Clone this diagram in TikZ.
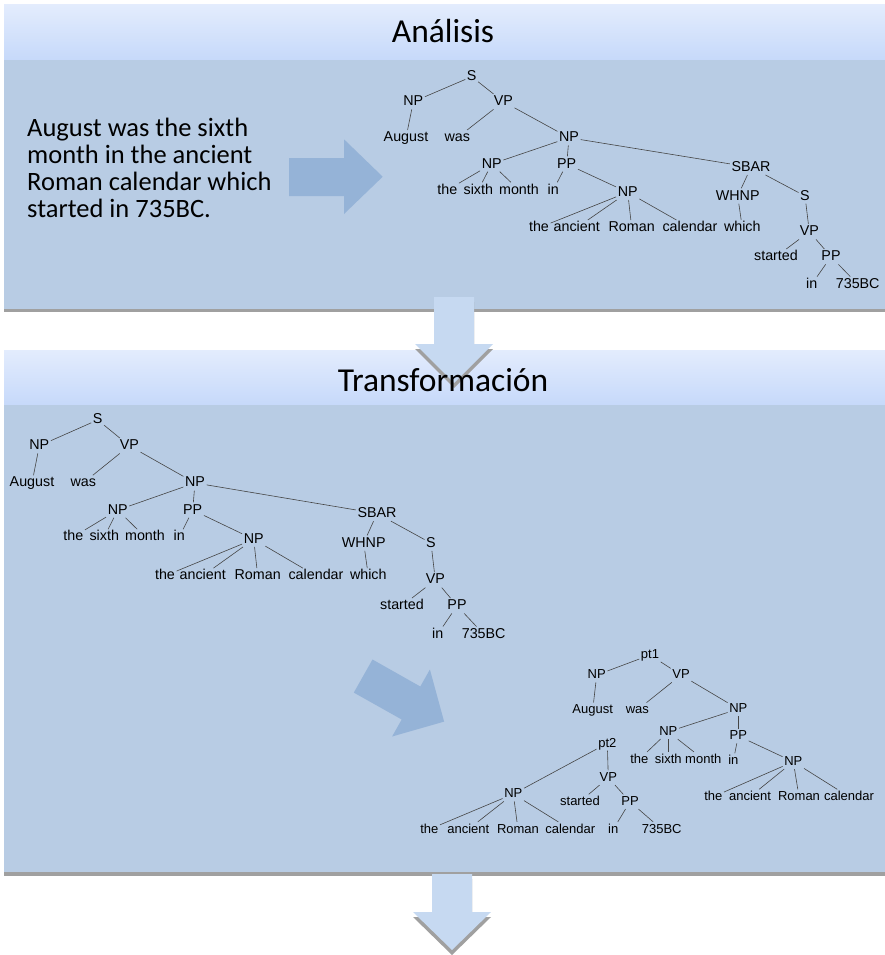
\documentclass[tikz,border=0pt]{standalone}
\usepackage{fontspec}
\setmainfont{Carlito}
\newfontfamily\arialf{Liberation Sans}
\definecolor{bodyblue}{HTML}{B8CCE4}
\definecolor{hdtop}{HTML}{E3ECFD}
\definecolor{hdbot}{HTML}{C6D9FA}
\definecolor{arrowblue}{HTML}{95B3D7}
\definecolor{downblue}{HTML}{C6D9F1}
\definecolor{shadowgray}{HTML}{A0A0A0}
\definecolor{edgegray}{HTML}{454545}
\tikzset{
  lbl/.style={font=\arialf\fontsize{14.3}{14.3}\selectfont, inner sep=1.5pt, text height=10pt, text depth=2pt},
  lblsm/.style={font=\arialf\fontsize{13}{13}\selectfont, inner sep=1.5pt, text height=9.4pt, text depth=2pt},
  edge/.style={draw=edgegray, line width=0.6pt},
  hdr/.style={font=\fontsize{33.5}{33.5}\selectfont, anchor=base, inner sep=0pt},
}
\newcommand\treeA[1]{%
  \node[lbl] (#1S) at (471.7,76.7) {S};
  \node[lbl] (#1NPa) at (413.3,101.7) {NP};
  \node[lbl] (#1VPa) at (503.3,101.7) {VP};
  \node[lbl] (#1Aug) at (406,137.7) {August};
  \node[lbl] (#1was) at (457.3,137.7) {was};
  \node[lbl] (#1NPb) at (569,137.7) {NP};
  \node[lbl] (#1NPc) at (491.7,164) {NP};
  \node[lbl] (#1PPa) at (566.7,164) {PP};
  \node[lbl] (#1thea) at (447.3,190) {the};
  \node[lbl] (#1sixth) at (478.3,190) {sixth};
  \node[lbl] (#1month) at (519,190) {month};
  \node[lbl] (#1ina) at (553.3,190) {in};
  \node[lbl] (#1NPd) at (627.7,192.3) {NP};
  \node[lbl] (#1SBAR) at (751,167.3) {SBAR};
  \node[lbl] (#1WHNP) at (737.7,196) {WHNP};
  \node[lbl] (#1Sb) at (805,196) {S};
  \node[lbl] (#1theb) at (539,227.7) {the};
  \node[lbl] (#1anc) at (576.7,227.7) {ancient};
  \node[lbl] (#1Rom) at (631.7,227.7) {Roman};
  \node[lbl] (#1cal) at (690,227.7) {calendar};
  \node[lbl] (#1which) at (742.3,227.7) {which};
  \node[lbl] (#1VPb) at (809.3,231.7) {VP};
  \node[lbl] (#1start) at (776,256.7) {started};
  \node[lbl] (#1PPb) at (831,256.7) {PP};
  \node[lbl] (#1inb) at (811.7,284.3) {in};
  \node[lbl] (#1BC) at (857.7,284.3) {735BC};
  \draw[edge] (#1S) -- (#1NPa);
  \draw[edge] (#1S) -- (#1VPa);
  \draw[edge] (#1NPa) -- (#1Aug);
  \draw[edge] (#1VPa) -- (#1was);
  \draw[edge] (#1VPa) -- (#1NPb);
  \draw[edge] (#1NPb) -- (#1NPc);
  \draw[edge] (#1NPb) -- (#1PPa);
  \draw[edge] (#1NPb) -- (#1SBAR);
  \draw[edge] (#1NPc) -- (#1thea);
  \draw[edge] (#1NPc) -- (#1sixth);
  \draw[edge] (#1NPc) -- (#1month);
  \draw[edge] (#1PPa) -- (#1ina);
  \draw[edge] (#1PPa) -- (#1NPd);
  \draw[edge] (#1NPd) -- (#1theb);
  \draw[edge] (#1NPd) -- (#1anc);
  \draw[edge] (#1NPd) -- (#1Rom);
  \draw[edge] (#1NPd) -- (#1cal);
  \draw[edge] (#1SBAR) -- (#1WHNP);
  \draw[edge] (#1WHNP) -- (#1which);
  \draw[edge] (#1SBAR) -- (#1Sb);
  \draw[edge] (#1Sb) -- (#1VPb);
  \draw[edge] (#1VPb) -- (#1start);
  \draw[edge] (#1VPb) -- (#1PPb);
  \draw[edge] (#1PPb) -- (#1inb);
  \draw[edge] (#1PPb) -- (#1BC);
}
\begin{document}
\begin{tikzpicture}[x=1pt,y=-1pt]
\useasboundingbox (0,0) rectangle (885,955);
\fill[white] (0,0) rectangle (885,955);
% panel 1
\shade[top color=hdtop, bottom color=hdbot] (4,5) rectangle (885,60);
\fill[bodyblue] (4,60) rectangle (885,309);
\fill[shadowgray] (4,309) rectangle (885,312);
% panel 2
\shade[top color=hdtop, bottom color=hdbot] (4,350) rectangle (885,405);
\fill[bodyblue] (4,405) rectangle (885,872);
\fill[shadowgray] (4,872) rectangle (885,876);
% down arrow 1
\fill[shadowgray] (434,302) -- (474,302) -- (474,349) -- (493,349) -- (454,388) -- (415,349) -- (434,349) -- cycle;
\fill[downblue] (434,297) -- (474,297) -- (474,344) -- (493,344) -- (454,383) -- (415,344) -- (434,344) -- cycle;
% down arrow 2
\fill[shadowgray] (432,879) -- (472,879) -- (472,917) -- (491,917) -- (452,955) -- (413,917) -- (432,917) -- cycle;
\fill[downblue] (432,874) -- (472,874) -- (472,912) -- (491,912) -- (452,950) -- (413,912) -- (432,912) -- cycle;
% headers
\node[hdr] (h1) at (443,42.7) {Análisis};
\node[hdr] (h2) at (443,391.7) {Transformación};
% sentence
\node[anchor=west, align=left, inner sep=0pt, font=\fontsize{26.5}{27.2}\selectfont] (sent) at (27,168)
  {August was the sixth\\month in the ancient\\Roman calendar which\\started in 735BC.};
% right arrow
\fill[arrowblue] (289,158) -- (344,158) -- (344,139.3) -- (382.7,176.7) -- (344,214) -- (344,196) -- (289,196) -- cycle;
% diagonal arrow
\fill[arrowblue] (372.5,659.5) -- (420.3,686.5) -- (429.9,669.5) -- (444.1,721.6) -- (392.1,736.5) -- (401.7,719.5) -- (353.8,692.6) -- cycle;
% tree 1
\treeA{a}
% tree 2
\begin{scope}[shift={(-374,340.8)}, yscale=1.032]
\treeA{b}
\end{scope}
% tree 3
\node[lblsm] (cpt1) at (650,655) {pt1};
\node[lblsm] (cNPa) at (596.7,675) {NP};
\node[lblsm] (cVPa) at (681,675) {VP};
\node[lblsm] (cAug) at (592.7,710) {August};
\node[lblsm] (cwas) at (637.3,710) {was};
\node[lblsm] (cNPb) at (738.3,709) {NP};
\node[lblsm] (cNPc) at (668.3,731.7) {NP};
\node[lblsm] (cPPa) at (738.3,736) {PP};
\node[lblsm] (cthea) at (639.3,759.3) {the};
\node[lblsm] (csixth) at (668.3,759.3) {sixth};
\node[lblsm] (cmonth) at (703.3,759.3) {month};
\node[lblsm] (cina) at (733.3,760.7) {in};
\node[lblsm] (cNPd) at (793.3,761.7) {NP};
\node[lblsm] (ctheb) at (713.3,796.7) {the};
\node[lblsm] (canc) at (750,796.7) {ancient};
\node[lblsm] (cRom) at (799,796.7) {Roman};
\node[lblsm] (ccal) at (849,796.7) {calendar};
\node[lblsm] (cpt2) at (607.3,743.3) {pt2};
\node[lblsm] (cVPb) at (608.3,777.7) {VP};
\node[lblsm] (cNPe) at (513.3,794) {NP};
\node[lblsm] (cstart) at (580,801.7) {started};
\node[lblsm] (cPPb) at (630,801.7) {PP};
\node[lblsm] (cthec) at (429.3,829.3) {the};
\node[lblsm] (cancb) at (468.3,829.3) {ancient};
\node[lblsm] (cRomb) at (518,829.3) {Roman};
\node[lblsm] (ccalb) at (570.3,829.3) {calendar};
\node[lblsm] (cinb) at (613.3,829.3) {in};
\node[lblsm] (cBC) at (661.7,829.3) {735BC};
\draw[edge] (cpt1) -- (cNPa);
\draw[edge] (cpt1) -- (cVPa);
\draw[edge] (cNPa) -- (cAug);
\draw[edge] (cVPa) -- (cwas);
\draw[edge] (cVPa) -- (cNPb);
\draw[edge] (cNPb) -- (cNPc);
\draw[edge] (cNPb) -- (cPPa);
\draw[edge] (cNPc) -- (cthea);
\draw[edge] (cNPc) -- (csixth);
\draw[edge] (cNPc) -- (cmonth);
\draw[edge] (cPPa) -- (cina);
\draw[edge] (cPPa) -- (cNPd);
\draw[edge] (cNPd) -- (ctheb);
\draw[edge] (cNPd) -- (canc);
\draw[edge] (cNPd) -- (cRom);
\draw[edge] (cNPd) -- (ccal);
\draw[edge] (cpt2) -- (cNPe);
\draw[edge] (cpt2) -- (cVPb);
\draw[edge] (cVPb) -- (cstart);
\draw[edge] (cVPb) -- (cPPb);
\draw[edge] (cPPb) -- (cinb);
\draw[edge] (cPPb) -- (cBC);
\draw[edge] (cNPe) -- (cthec);
\draw[edge] (cNPe) -- (cancb);
\draw[edge] (cNPe) -- (cRomb);
\draw[edge] (cNPe) -- (ccalb);
\end{tikzpicture}
\end{document}
